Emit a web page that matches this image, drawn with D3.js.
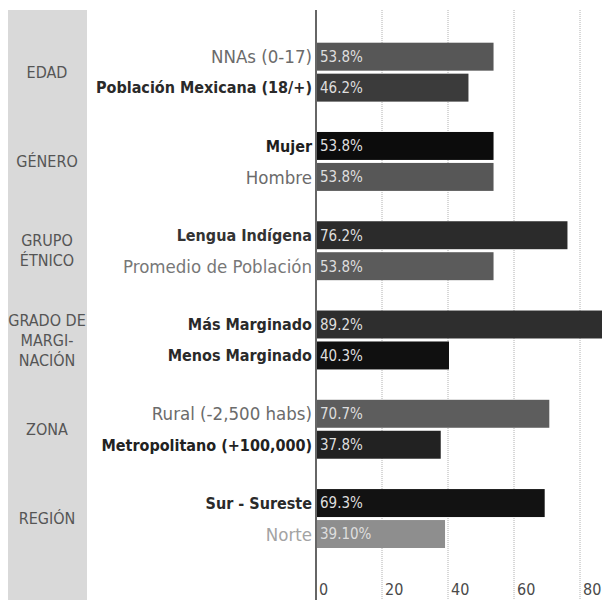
<!DOCTYPE html>
<html>
<head>
<meta charset="utf-8">
<script src="https://cdn.jsdelivr.net/npm/d3@7"></script>
<style>
  html, body { margin: 0; padding: 0; background: #fff; }
  svg { display: block; }
  text { font-family: "DejaVu Sans Condensed", "Liberation Sans Narrow", "Roboto", sans-serif; }
</style>
</head>
<body>
<svg id="chart" width="602" height="600"></svg>
<script>
// Groups shown in the grey side column (one entry per line of text)
const groups = ["EDAD", "GÉNERO", "GRUPO ÉTNICO", "GRADO DE MARGINACIÓN", "ZONA", "REGIÓN"];
const groupLines = [["EDAD"], ["GÉNERO"], ["GRUPO", "ÉTNICO"], ["GRADO DE", "MARGI-", "NACIÓN"], ["ZONA"], ["REGIÓN"]];

// Two bars per group
const barLabels = [
  ["NNAs (0-17)", "Población Mexicana (18/+)"],
  ["Mujer", "Hombre"],
  ["Lengua Indígena", "Promedio de Población"],
  ["Más Marginado", "Menos Marginado"],
  ["Rural (-2,500 habs)", "Metropolitano (+100,000)"],
  ["Sur - Sureste", "Norte"]
];
// Percentages as printed on the bars
const barValues = [
  ["53.8", "46.2"],
  ["53.8", "53.8"],
  ["76.2", "53.8"],
  ["89.2", "40.3"],
  ["70.7", "37.8"],
  ["69.3", "39.10"]
];
const xTicks = [0, 20, 40, 60, 80];

// Styling per bar
const barFill = [
  ["#575757", "#3b3b3b"],
  ["#0c0c0c", "#575757"],
  ["#2b2b2b", "#5b5b5b"],
  ["#2e2e2e", "#101010"],
  ["#5d5d5d", "#222222"],
  ["#121212", "#8e8e8e"]
];
const labelFill = [
  ["#6b6b6b", "#2a2a2a"],
  ["#1e1e1e", "#6b6b6b"],
  ["#333333", "#777777"],
  ["#2a2a2a", "#2a2a2a"],
  ["#6b6b6b", "#222222"],
  ["#2a2a2a", "#a3a3a3"]
];
const labelBold = [
  [false, true],
  [true, false],
  [true, false],
  [true, true],
  [false, true],
  [true, false]
];

const svg = d3.select("#chart");
const W = 602, H = 600;

const x = d3.scaleLinear().domain([0, 80]).range([316, 580]);

const y = d3.scaleBand().domain(groups).range([42.7, 548]).paddingInner(0.34).paddingOuter(0);
const yInner = d3.scaleBand().domain([0, 1]).range([0, y.bandwidth()]).paddingInner(0.097).paddingOuter(0);

// Grey side column
svg.append("rect")
  .attr("x", 8).attr("y", 10).attr("width", 79).attr("height", H - 10)
  .attr("fill", "#d9d9d9");

// Dotted grid lines
svg.append("g").selectAll("line")
  .data(xTicks.filter(t => t > 0))
  .join("line")
  .attr("x1", d => x(d)).attr("x2", d => x(d))
  .attr("y1", 10).attr("y2", H)
  .attr("stroke", "#b0b0b0")
  .attr("stroke-width", 1)
  .attr("stroke-dasharray", "1,1");

// Rows
const rows = [];
groups.forEach((g, gi) => {
  barLabels[gi].forEach((lab, bi) => {
    rows.push({
      group: g, idx: bi, label: lab,
      text: barValues[gi][bi], value: +barValues[gi][bi],
      fill: barFill[gi][bi], lfill: labelFill[gi][bi], bold: labelBold[gi][bi]
    });
  });
});

const rowY = d => y(d.group) + yInner(d.idx);

svg.append("g").selectAll("rect")
  .data(rows)
  .join("rect")
  .attr("x", x(0))
  .attr("y", rowY)
  .attr("width", d => x(d.value) - x(0))
  .attr("height", yInner.bandwidth())
  .attr("fill", d => d.fill);

// Value labels inside bars
svg.append("g").selectAll("text")
  .data(rows)
  .join("text")
  .attr("x", x(0) + 4)
  .attr("y", d => rowY(d) + yInner.bandwidth() / 2)
  .attr("dy", "0.36em")
  .attr("fill", "#dedede")
  .attr("font-size", 15)
  .text(d => d.text + "%");

// Bar labels to the left of the axis
svg.append("g").selectAll("text")
  .data(rows)
  .join("text")
  .attr("x", 312)
  .attr("y", d => rowY(d) + yInner.bandwidth() / 2)
  .attr("dy", "0.36em")
  .attr("text-anchor", "end")
  .attr("fill", d => d.lfill)
  .attr("font-weight", d => d.bold ? "bold" : "normal")
  .attr("font-size", d => d.bold ? 16 : 18.5)
  .text(d => d.label);

// Group titles in the side column
const gt = svg.append("g").selectAll("text")
  .data(groups)
  .join("text")
  .attr("text-anchor", "middle")
  .attr("fill", "#555")
  .attr("font-size", 16)
  .attr("x", 47)
  .attr("y", (d, i) => y(d) + y.bandwidth() / 2 - (groupLines[i].length - 1) * 10);
gt.selectAll("tspan")
  .data((d, i) => groupLines[i])
  .join("tspan")
  .attr("x", 47)
  .attr("dy", (d, i) => i === 0 ? "0.36em" : 20)
  .text(d => d);

// Axis line
svg.append("line")
  .attr("x1", x(0)).attr("x2", x(0))
  .attr("y1", 10).attr("y2", H)
  .attr("stroke", "#666").attr("stroke-width", 2);

// Bottom tick labels
svg.append("g").selectAll("text")
  .data(xTicks)
  .join("text")
  .attr("x", d => x(d) + 3)
  .attr("y", 595)
  .attr("fill", "#4a4a4a")
  .attr("font-size", 16)
  .text(d => d);
</script>
</body>
</html>
